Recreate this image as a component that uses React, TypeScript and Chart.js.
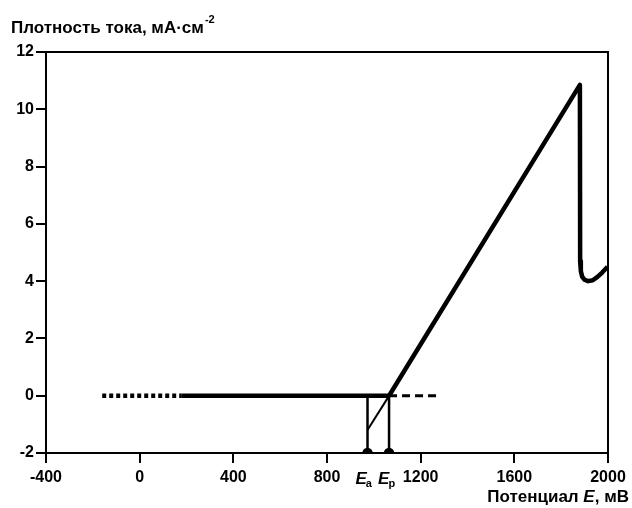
import React, { useEffect, useRef } from "react";
import { Chart, registerables } from "chart.js";

Chart.register(...registerables);

// ---- data ----
const xTicks = [-400, 0, 400, 800, 1200, 1600, 2000];
const yTicks = [-2, 0, 2, 4, 6, 8, 10, 12];
const Ea = 973;
const Ep = 1065;
const dottedBase = [
  { x: -160, y: 0 },
  { x: 180, y: 0 },
];
const solidBase = [
  { x: 180, y: 0 },
  { x: Ep, y: 0 },
];
const dashedBase = [
  { x: Ep, y: 0 },
  { x: 1285, y: 0 },
];
const mainCurve = [
  { x: Ep, y: 0 },
  { x: 1880, y: 10.85 },
  { x: 1881, y: 4.7 },
  { x: 1884, y: 4.35 },
  { x: 1890, y: 4.15 },
  { x: 1900, y: 4.05 },
  { x: 1915, y: 4.0 },
  { x: 1935, y: 4.03 },
  { x: 1955, y: 4.15 },
  { x: 1975, y: 4.3 },
  { x: 1998, y: 4.5 },
];
const tangent = [
  { x: Ea, y: -1.2 },
  { x: Ep + 8, y: 0.1 },
];
const eaLine = [
  { x: Ea, y: 0 },
  { x: Ea, y: -2 },
];
const epLine = [
  { x: Ep, y: 0 },
  { x: Ep, y: -2 },
];

const FONT = "'Liberation Sans', Arial, sans-serif";

const textPlugin = {
  id: "texts",
  afterDraw(chart: any) {
    const ctx = chart.ctx;
    const { left, top, right, bottom } = chart.chartArea;
    ctx.save();
    // frame
    ctx.strokeStyle = "#000";
    ctx.lineWidth = 2;
    ctx.strokeRect(left, top, right - left, bottom - top);
    ctx.fillStyle = "#000";
    ctx.textBaseline = "alphabetic";
    ctx.textAlign = "left";
    // y title
    ctx.font = `bold 17px ${FONT}`;
    const yt = "Плотность тока, мА·см";
    ctx.fillText(yt, 11, 33);
    const w = ctx.measureText(yt).width;
    ctx.font = `bold 11px ${FONT}`;
    ctx.fillText("-2", 11 + w + 1, 23);
    // x title
    const fs = 17;
    const p1 = "Потенциал ";
    const p3 = ", мВ";
    ctx.font = `bold ${fs}px ${FONT}`;
    const w1 = ctx.measureText(p1).width;
    const w3 = ctx.measureText(p3).width;
    ctx.font = `italic bold ${fs}px ${FONT}`;
    const w2 = ctx.measureText("E").width;
    const x0 = 629 - (w1 + w2 + w3);
    ctx.font = `bold ${fs}px ${FONT}`;
    ctx.fillText(p1, x0, 502);
    ctx.font = `italic bold ${fs}px ${FONT}`;
    ctx.fillText("E", x0 + w1, 502);
    ctx.font = `bold ${fs}px ${FONT}`;
    ctx.fillText(p3, x0 + w1 + w2, 502);
    // Ea / Ep labels
    const xs = chart.scales.x;
    const drawE = (val: number, sub: string, dx: number) => {
      const px = xs.getPixelForValue(val) + dx;
      ctx.font = `italic bold 17px ${FONT}`;
      ctx.fillText("E", px, 484);
      const we = ctx.measureText("E").width;
      ctx.font = `bold 11px ${FONT}`;
      ctx.fillText(sub, px + we - 1, 487);
    };
    drawE(Ea, "a", -12);
    drawE(Ep, "p", -11);
    ctx.restore();
  },
};

export default function App() {
  const ref = useRef<HTMLCanvasElement>(null);
  useEffect(() => {
    if (!ref.current) return;
    const lineDs = (data: any[], extra: any = {}) => ({
      data,
      borderColor: "#000",
      backgroundColor: "#000",
      pointRadius: 0,
      fill: false,
      tension: 0,
      borderCapStyle: "butt",
      ...extra,
    });
    const chart = new Chart(ref.current, {
      type: "line",
      data: {
        datasets: [
          lineDs(dottedBase, { borderWidth: 4.5, borderDash: [4, 3] }),
          lineDs(solidBase, { borderWidth: 4.5 }),
          lineDs(dashedBase, { borderWidth: 3, borderDash: [8, 5] }),
          lineDs(tangent, { borderWidth: 2 }),
          lineDs(eaLine, { borderWidth: 2.5, pointRadius: [0, 4] }),
          lineDs(epLine, { borderWidth: 2.5, pointRadius: [0, 4] }),
          lineDs(mainCurve, { borderWidth: 4.5, borderJoinStyle: "round" }),
        ] as any,
      },
      options: {
        animation: false,
        responsive: true,
        maintainAspectRatio: false,
        layout: { padding: { left: 0, right: 24, top: 52, bottom: 0 } },
        plugins: { legend: { display: false }, tooltip: { enabled: false } },
        scales: {
          x: {
            type: "linear",
            min: -400,
            max: 2000,
            afterBuildTicks: (s: any) => {
              s.ticks = xTicks.map((v) => ({ value: v }));
            },
            afterFit: (s: any) => {
              s.height = 55;
            },
            border: { display: true, color: "#000", width: 2 },
            grid: {
              drawOnChartArea: false,
              drawTicks: true,
              tickLength: 10,
              color: "#000",
              lineWidth: 2,
            },
            ticks: {
              color: "#000",
              font: { family: FONT, size: 16, weight: "bold" },
              padding: 5,
              maxRotation: 0,
              autoSkip: false,
              callback: (v: any) => String(v),
            },
          },
          y: {
            type: "linear",
            min: -2,
            max: 12,
            afterBuildTicks: (s: any) => {
              s.ticks = yTicks.map((v) => ({ value: v }));
            },
            afterFit: (s: any) => {
              s.width = 46;
            },
            border: { display: true, color: "#000", width: 2 },
            grid: {
              drawOnChartArea: false,
              drawTicks: true,
              tickLength: 10,
              color: "#000",
              lineWidth: 2,
            },
            ticks: {
              color: "#000",
              font: { family: FONT, size: 16, weight: "bold" },
              padding: 2,
              autoSkip: false,
              callback: (v: any) => String(v),
            },
          },
        },
      } as any,
      plugins: [textPlugin],
    });
    return () => chart.destroy();
  }, []);
  return (
    <div style={{ position: "fixed", left: 0, top: 0, width: 632, height: 508, background: "#fff" }}>
      <canvas ref={ref} />
    </div>
  );
}
